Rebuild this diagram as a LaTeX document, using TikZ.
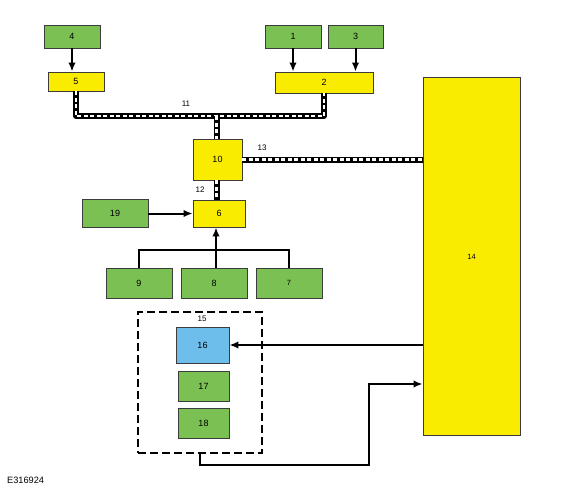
\documentclass[tikz,border=0pt]{standalone}
\usepackage{fontspec}
\setmainfont{Liberation Sans}
\usetikzlibrary{arrows.meta,calc}
\definecolor{gfill}{RGB}{122,192,82}
\definecolor{yfill}{RGB}{249,236,0}
\definecolor{bfill}{RGB}{110,190,236}
\definecolor{edge}{RGB}{60,60,60}
\tikzset{
  box/.style={draw=edge, line width=0.85pt, inner sep=0pt, font=\fontsize{9}{10}\selectfont},
  gbox/.style={box, fill=gfill},
  ybox/.style={box, fill=yfill},
  bbox/.style={box, fill=bfill},
  arr/.style={line width=2pt, -{Latex[length=9pt,width=7.5pt]}},
  plain/.style={line width=2pt},
  bus/.style={line width=6pt, black, line join=round,
    postaction={draw, white, line width=2.2pt, dash pattern=on 4pt off 2.5pt}},
  lbl/.style={font=\fontsize{8}{9}\selectfont, inner sep=0pt}
}
\begin{document}
\begin{tikzpicture}[x=1pt,y=-1pt]
\useasboundingbox (0,0) rectangle (580,490);
% boxes
\node[gbox, minimum width=56, minimum height=23] (n4) at (72,36.5) {4};
\node[ybox, minimum width=56, minimum height=19] (n5) at (76,81.5) {5};
\node[gbox, minimum width=56, minimum height=23] (n1) at (293,36.5) {1};
\node[gbox, minimum width=55, minimum height=23] (n3) at (355.5,36.5) {3};
\node[ybox, minimum width=98, minimum height=21] (n2) at (324,82.5) {2};
\node[ybox, minimum width=97, minimum height=358] (n14) at (471.5,256.5) {\fontsize{7.5}{8}\selectfont 14};
\node[ybox, minimum width=49, minimum height=41] (n10) at (217.5,159.5) {10};
\node[ybox, minimum width=52, minimum height=27] (n6) at (219,213.5) {6};
\node[gbox, minimum width=66, minimum height=28] (n19) at (115,213.5) {19};
\node[gbox, minimum width=66, minimum height=30] (n9) at (139,283) {9};
\node[gbox, minimum width=66, minimum height=30] (n8) at (214,283) {8};
\node[gbox, minimum width=66, minimum height=30] (n7) at (289,283) {\fontsize{7.5}{8}\selectfont 7};
\node[draw=black, line width=1.3pt, dash pattern=on 8pt off 4pt, minimum width=124, minimum height=141] (n15) at (200,382.5) {};
\node[lbl] (l15) at (202,319) {15};
\node[bbox, minimum width=53, minimum height=36] (n16) at (202.5,345) {16};
\node[gbox, minimum width=51, minimum height=30] (n17) at (203.5,386) {17};
\node[gbox, minimum width=51, minimum height=30] (n18) at (203.5,423) {18};
% labels
\node[lbl] (l11) at (186,104) {11};
\node[lbl] (l13) at (262,148) {13};
\node[lbl] (l12) at (200,190) {12};
\node[font=\fontsize{9.2}{10}\selectfont, anchor=west, inner sep=0pt] (code) at (7,480) {E316924};
% buses
\coordinate (b11) at (216.5,116);
\draw[bus] (n5.south) |- (b11) -| (n2.south);
\draw[bus] (b11) -- (b11 |- n10.north);
\draw[bus] (n10.east) -- (n10.east -| n14.west);
\draw[bus] (n10.south -| b11) -- (n6.north -| b11);
% arrows
\draw[arr] (n4.south) -- (n4.south |- n5.north);
\draw[arr] (n1.south) -- (n1.south |- n2.north);
\draw[arr] (n3.south) -- (n3.south |- n2.north);
\draw[arr] (n19.east) -- (n19.east -| n6.west);
\coordinate (j) at (216,250);
\draw[plain] (n9.north) |- (j) -| (n7.north);
\draw[arr] (n8.north -| j) -- (n6.south -| j);
\draw[arr] (n14.west |- n16.east) -- (n16.east);
\coordinate (c1) at (369,384);
\draw[arr] (n15.south) -- ++(0,11) -| (c1) -- (c1 -| n14.west);
\end{tikzpicture}
\end{document}
